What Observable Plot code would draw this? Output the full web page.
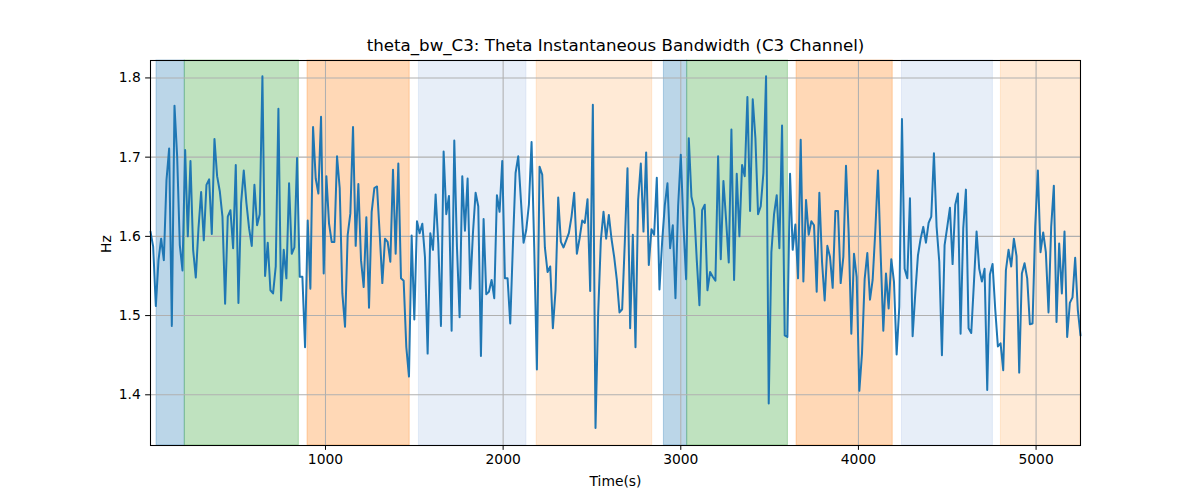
<!DOCTYPE html>
<html><head><meta charset="utf-8">
<script src="https://cdn.jsdelivr.net/npm/d3@7"></script>
<script src="https://cdn.jsdelivr.net/npm/@observablehq/plot@0.6"></script>
<style>body{margin:0;background:#fff;} svg{font-family:"DejaVu Sans";}</style>
</head><body><div id="chart"></div>
<script>
const title = "theta_bw_C3: Theta Instantaneous Bandwidth (C3 Channel)";
const xLabel = "Time(s)";
const yLabel = "Hz";
const hz = [
1.606,1.587,1.512,1.570,1.597,1.570,1.671,1.711,1.487,1.765,
1.701,1.589,1.557,1.709,1.600,1.695,1.583,1.548,1.610,1.656,
1.595,1.665,1.672,1.603,1.723,1.676,1.657,1.625,1.515,1.625,
1.633,1.585,1.690,1.516,1.642,1.683,1.642,1.610,1.588,1.665,
1.614,1.628,1.802,1.550,1.592,1.532,1.528,1.562,1.761,1.519,
1.583,
1.547,1.667,1.578,1.586,1.699,1.549,1.549,1.460,1.620,1.534,
1.738,1.673,1.654,1.751,1.553,1.676,1.616,1.593,1.593,1.701,
1.661,1.528,1.486,1.602,1.629,1.738,1.588,1.666,1.570,1.536,
1.624,1.510,1.631,1.661,1.663,1.604,1.541,1.597,1.593,1.568,
1.684,1.578,1.692,1.547,1.544,1.460,1.423,1.601,1.495,1.619,
1.604,
1.616,1.574,1.452,1.604,1.583,1.653,1.591,1.487,1.707,1.628,
1.651,1.481,1.721,1.587,1.498,1.676,1.607,1.673,1.534,1.604,
1.655,1.638,1.449,1.622,1.527,1.530,1.545,1.522,1.652,1.631,
1.695,1.547,1.547,1.490,1.589,1.680,1.701,1.646,1.592,1.608,
1.640,1.719,1.586,1.432,1.688,1.678,1.586,1.555,1.562,1.484,
1.532,1.649,1.593,1.586,1.595,1.604,1.625,1.655,1.578,1.597,
1.620,1.617,1.647,1.531,1.766,1.358,1.503,1.595,1.631,1.597,
1.627,1.597,1.574,1.545,1.504,1.508,1.593,1.686,1.484,1.602,
1.460,1.646,1.692,1.606,1.706,1.564,1.609,1.602,1.674,1.533,
1.593,1.639,1.667,1.585,1.614,1.522,1.638,1.703,1.614,1.546,
1.724,
1.650,1.635,1.570,1.513,1.633,1.640,1.532,1.555,1.549,1.544,
1.701,1.571,1.670,1.621,1.567,1.735,1.545,1.679,1.600,1.690,
1.676,1.776,1.632,1.773,1.724,1.628,1.638,1.680,1.802,1.389,
1.580,1.628,1.652,1.585,1.740,1.475,1.473,1.679,1.583,1.615,
1.547,1.722,1.543,1.646,1.602,1.619,1.614,1.530,1.655,1.568,
1.519,
1.588,1.574,1.535,1.632,1.632,1.541,1.574,1.689,1.604,1.477,
1.578,1.549,1.405,1.452,1.546,1.579,1.520,1.545,1.607,1.683,
1.578,1.481,1.553,1.509,1.571,1.543,1.451,1.511,1.748,1.559,
1.547,1.648,1.474,1.528,1.576,1.597,1.612,1.592,1.617,1.625,
1.705,1.612,1.568,1.450,1.589,1.612,1.636,1.565,1.640,1.654,
1.477,
1.610,1.659,1.484,1.478,1.541,1.606,1.559,1.543,1.559,1.406,
1.552,1.565,1.508,1.461,1.465,1.431,1.557,1.583,1.562,1.597,
1.575,1.428,1.553,1.566,1.547,1.489,1.490,1.612,1.683,1.580,
1.605,1.580,1.504,1.612,1.664,1.492,1.591,1.528,1.606,1.473,
1.516,1.523,1.573,1.507,1.475
];
const t0 = 15, dt = 15;
const spanStart = [49, 208, 899, 1526, 2189, 2905, 3036, 3652, 4245, 4802];
const spanEnd   = [208, 850, 1474, 2131, 2839, 3036, 3603, 4193, 4757, 5250];
const spanColor = ["#1f77b4","#2ca02c","#ff7f0e","#aec7e8","#ffbb78","#1f77b4","#2ca02c","#ff7f0e","#aec7e8","#ffbb78"];
const xTicks = [1000, 2000, 3000, 4000, 5000];
const yTicks = [1.4, 1.5, 1.6, 1.7, 1.8];

const data = hz.map((v, i) => ({t: t0 + i * dt, v}));
const spans = spanStart.map((s, i) => ({x1: s, x2: spanEnd[i], c: spanColor[i]}));

const plot = Plot.plot({
  width: 1200, height: 500,
  marginLeft: 150, marginRight: 120, marginTop: 60, marginBottom: 55,
  style: {fontFamily: "DejaVu Sans", fontSize: "13.89px", background: "white", color: "black"},
  x: {domain: [t0, t0 + dt * (hz.length - 1)]},
  y: {domain: [1.336, 1.822]},
  marks: [
    Plot.rectX(spans, {x1: "x1", x2: "x2", fill: "c", fillOpacity: 0.3, stroke: "c", strokeOpacity: 0.3, strokeWidth: 1}),
    Plot.gridX(xTicks, {stroke: "#b0b0b0", strokeOpacity: 1, strokeWidth: 1.07}),
    Plot.gridY(yTicks, {stroke: "#b0b0b0", strokeOpacity: 1, strokeWidth: 1.07}),
    Plot.line(data, {x: "t", y: "v", stroke: "#1f77b4", strokeWidth: 2}),
    Plot.frame({stroke: "black", strokeWidth: 1.07}),
    Plot.axisX(xTicks, {tickSize: 4.86, tickPadding: 3.5, fontSize: 13.89, label: null, tickFormat: d => String(d), stroke: "black"}),
    Plot.axisY(yTicks, {tickSize: 4.86, tickPadding: 4.86, fontSize: 13.89, label: null, tickFormat: d => d.toFixed(1), stroke: "black"}),
    Plot.text([title], {frameAnchor: "top", lineAnchor: "middle", dy: -14.6, fontSize: 16.67, fill: "black"}),
    Plot.text([xLabel], {frameAnchor: "bottom", lineAnchor: "middle", dy: 36.4, fontSize: 13.89, fill: "black"}),
    Plot.text([yLabel], {frameAnchor: "left", lineAnchor: "middle", dx: -44, rotate: -90, fontSize: 13.89, fill: "black"})
  ]
});
document.getElementById("chart").appendChild(plot);
</script>
</body></html>
